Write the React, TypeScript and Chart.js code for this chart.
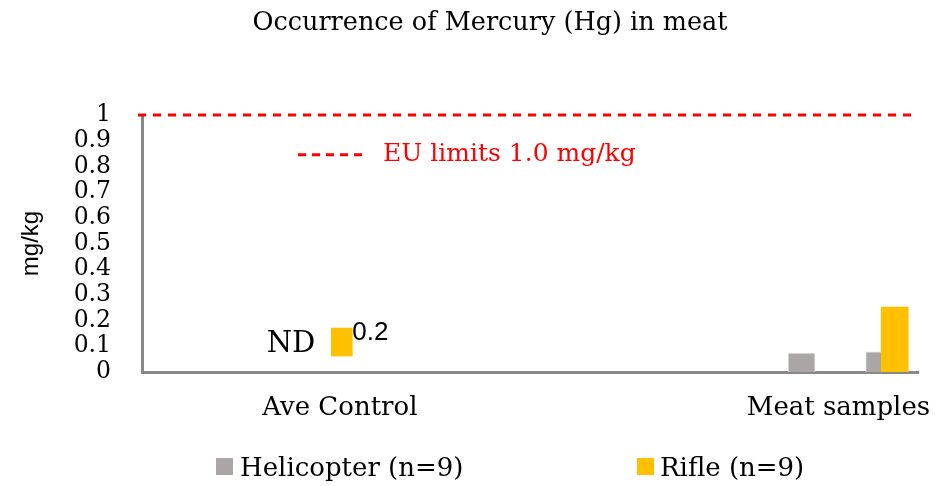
import React, { useEffect, useRef } from 'react';
import { Chart, registerables } from 'chart.js';

Chart.register(...registerables);

const chartTitle = 'Occurrence of Mercury (Hg) in meat';
const categories = ['Ave Control', 'Meat samples'];
const categoryX = [2.04, 7.18];
const helicopterLabel = 'Helicopter (n=9)';
const helicopterX = [6.8, 7.6];
const helicopterValues = [0.074, 0.078];
const rifleLabel = 'Rifle (n=9)';
const rifleControlX = [2.06];
const rifleControlValues: [number, number][] = [[0.062, 0.171]];
const rifleMeatX = [7.76];
const rifleMeatValues = [0.253];
const controlNote = 'ND';
const controlValueLabel = '0.2';
const euLimit = 1.0;
const euLabel = 'EU limits 1.0 mg/kg';
const euLabelLevel = 0.845;
const yAxisTitle = 'mg/kg';
const yMin = 0;
const yMax = 1;
const yStep = 0.1;

const GRAY = '#A9A6A5';
const YELLOW = '#FFC000';
const RED = '#FF0000';
const SERIF = '"DejaVu Serif"';

const overlayPlugin = {
  id: 'overlay',
  afterDatasetsDraw(chart: any) {
    const { ctx, chartArea, scales } = chart;
    const y = scales.y;
    ctx.save();
    // EU limit line
    const ey = y.getPixelForValue(euLimit);
    ctx.strokeStyle = RED;
    ctx.lineWidth = 3;
    ctx.setLineDash([8, 7]);
    ctx.beginPath();
    ctx.moveTo(chartArea.left - 4, ey);
    ctx.lineTo(chartArea.right, ey);
    ctx.stroke();
    // EU legend key
    const ly = y.getPixelForValue(euLabelLevel);
    ctx.setLineDash([8, 6]);
    ctx.beginPath();
    ctx.moveTo(298, ly);
    ctx.lineTo(364, ly);
    ctx.stroke();
    ctx.setLineDash([]);
    ctx.fillStyle = RED;
    ctx.font = `25px ${SERIF}`;
    ctx.textAlign = 'left';
    ctx.textBaseline = 'middle';
    ctx.fillText(euLabel, 383, ly);

    // ND and 0.2 labels near control bar
    const bar = chart.getDatasetMeta(0).data[0];
    if (bar) {
      const p = bar.getProps(['x', 'y', 'base', 'width'], true);
      const left = p.x - p.width / 2;
      const right = p.x + p.width / 2;
      const top = Math.min(p.y, p.base);
      const bottom = Math.max(p.y, p.base);
      ctx.fillStyle = '#000';
      ctx.textBaseline = 'alphabetic';
      ctx.textAlign = 'right';
      ctx.font = `29px ${SERIF}`;
      ctx.fillText(controlNote, left - 16, bottom - 4);
      ctx.textAlign = 'left';
      ctx.font = '26px "Liberation Sans"';
      ctx.fillText(controlValueLabel, right, top + 12);
    }
    ctx.restore();
  },
  afterDraw(chart: any) {
    const { ctx } = chart;
    ctx.save();
    // title
    ctx.fillStyle = '#000';
    ctx.font = `25.5px ${SERIF}`;
    ctx.textAlign = 'center';
    ctx.textBaseline = 'alphabetic';
    ctx.fillText(chartTitle, 490, 30);
    // legend
    ctx.fillStyle = GRAY;
    ctx.fillRect(216, 458, 17, 17);
    ctx.fillStyle = YELLOW;
    ctx.fillRect(637, 458, 17, 17);
    ctx.fillStyle = '#000';
    ctx.font = `26px ${SERIF}`;
    ctx.textAlign = 'left';
    ctx.fillText(helicopterLabel, 240, 476);
    ctx.fillText(rifleLabel, 660, 476);
    ctx.restore();
  },
};

export default function App() {
  const canvasRef = useRef<HTMLCanvasElement | null>(null);

  useEffect(() => {
    const canvas = canvasRef.current;
    if (!canvas) return;
    const chart = new Chart(canvas, {
      type: 'bar',
      data: {
        datasets: [
          {
            label: rifleLabel,
            data: rifleControlX.map((x, i) => ({ x, y: rifleControlValues[i] })) as any,
            backgroundColor: YELLOW,
            barThickness: 21,
            grouped: false,
            order: 0,
          } as any,
          {
            label: rifleLabel,
            data: rifleMeatX.map((x, i) => ({ x, y: rifleMeatValues[i] })) as any,
            backgroundColor: YELLOW,
            barThickness: 27,
            grouped: false,
            order: 0,
          } as any,
          {
            label: helicopterLabel,
            data: helicopterX.map((x, i) => ({ x, y: helicopterValues[i] })) as any,
            backgroundColor: GRAY,
            borderColor: '#E4E2E2',
            borderWidth: 1,
            borderSkipped: 'bottom',
            barThickness: 27,
            grouped: false,
            order: 1,
          } as any,
        ],
      },
      options: {
        responsive: false,
        animation: false,
        devicePixelRatio: 1,
        layout: { padding: { left: 0, right: 17, top: 115, bottom: 0 } },
        plugins: {
          legend: { display: false },
          tooltip: { enabled: false },
          title: { display: false },
        },
        scales: {
          x: {
            type: 'linear',
            min: 0,
            max: 8,
            offset: false,
            grid: { display: false, drawTicks: false },
            border: { display: true, color: '#888888', width: 3 },
            afterBuildTicks: (s: any) => {
              s.ticks = categoryX.map((v) => ({ value: v }));
            },
            ticks: {
              autoSkip: false,
              maxRotation: 0,
              padding: 21,
              color: '#000',
              font: { family: 'DejaVu Serif', size: 26 },
              callback: (_v: any, i: number) => categories[i],
            },
            afterFit: (s: any) => {
              s.height = 114;
              s.paddingLeft = 0;
              s.paddingRight = 0;
            },
          } as any,
          y: {
            min: yMin,
            max: yMax,
            grid: { display: false, drawTicks: false },
            border: { display: true, color: '#888888', width: 3 },
            ticks: {
              stepSize: yStep,
              autoSkip: false,
              padding: 31,
              color: '#000',
              font: { family: 'DejaVu Serif', size: 23.5 },
              callback: (v: any) => String(Math.round(Number(v) * 10) / 10),
            },
            title: {
              display: true,
              text: yAxisTitle,
              color: '#000',
              font: { family: 'Liberation Sans', size: 24 },
              padding: { top: 17, bottom: 0 },
            },
            afterFit: (s: any) => {
              s.width = 142;
              s.paddingTop = 0;
              s.paddingBottom = 0;
            },
          } as any,
        },
      },
      plugins: [overlayPlugin],
    });
    return () => chart.destroy();
  }, []);

  return (
    <div style={{ position: 'absolute', left: 0, top: 0, width: 935, height: 486 }}>
      <canvas ref={canvasRef} width={935} height={486} style={{ display: 'block' }} />
    </div>
  );
}
